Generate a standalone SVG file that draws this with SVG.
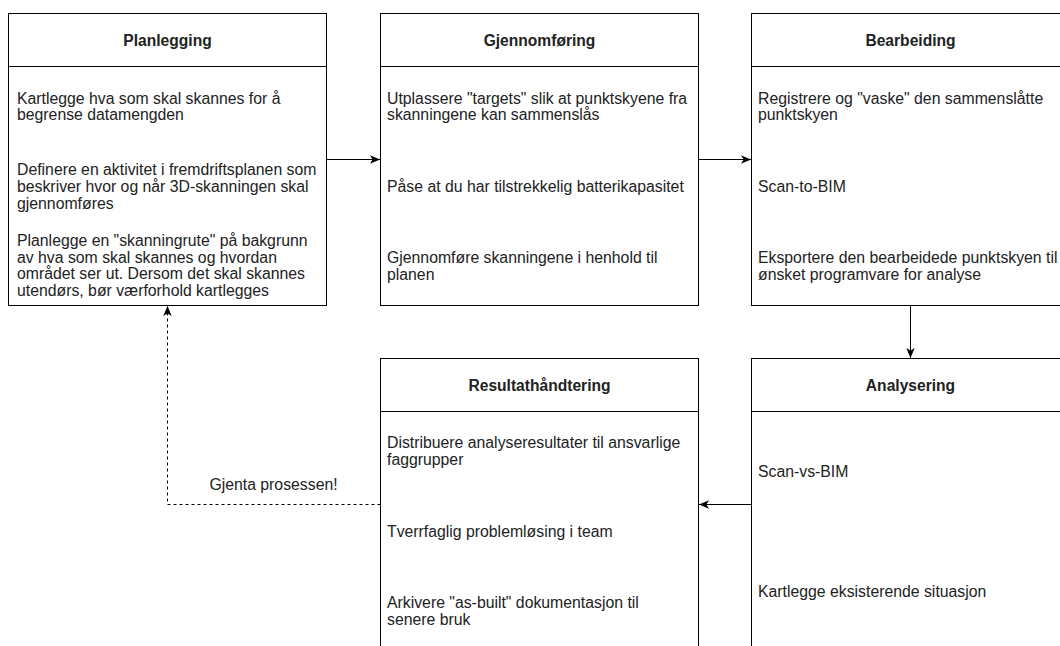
<svg xmlns="http://www.w3.org/2000/svg" width="1060" height="646" viewBox="0 0 1060 646">
<style>
.box{fill:#fff;stroke:#000;stroke-width:1}
.div{stroke:#000;stroke-width:1;fill:none}
.t{font-family:"Liberation Sans",Arial,Helvetica,sans-serif;font-size:15.8px;fill:#222}
.h{font-family:"Liberation Sans",Arial,Helvetica,sans-serif;font-size:15.6px;font-weight:bold;fill:#222;text-anchor:middle}
.c{fill:none;stroke:#000;stroke-width:1}
.d{fill:none;stroke:#000;stroke-width:1;stroke-dasharray:3 3}
</style>
<defs>
<marker id="arr" markerUnits="userSpaceOnUse" viewBox="0 0 10 10" markerWidth="10" markerHeight="10" refX="10" refY="5" orient="auto">
<path d="M0,0.8 L10,5 L0,9.2 L2.6,5 Z" fill="#000"/>
</marker>
</defs>
<rect width="1060" height="646" fill="#fff"/>
<g id="connectors">
<path class="c" d="M326.5,159.5 H380" marker-end="url(#arr)"/>
<path class="c" d="M698.5,159.5 H751" marker-end="url(#arr)"/>
<path class="c" d="M910.5,305.5 V358" marker-end="url(#arr)"/>
<path class="c" d="M751.5,504.5 H699" marker-end="url(#arr)"/>
<path class="d" d="M380.5,504.5 H167.5 V306" marker-end="url(#arr)"/>
<text class="t" x="273.5" y="489.5" text-anchor="middle">Gjenta prosessen!</text>
</g>
<g id="planlegging">
<rect class="box" x="8.5" y="13.5" width="318" height="292"/>
<line class="div" x1="8.5" y1="66.5" x2="326.5" y2="66.5"/>
<text class="h" x="167.5" y="45.5">Planlegging</text>
<text class="t" x="17" y="103.5">Kartlegge hva som skal skannes for å</text>
<text class="t" x="17" y="120.2">begrense datamengden</text>
<text class="t" x="17" y="175.3">Definere en aktivitet i fremdriftsplanen som</text>
<text class="t" x="17" y="192">beskriver hvor og når 3D-skanningen skal</text>
<text class="t" x="17" y="208.7">gjennomføres</text>
<text class="t" x="17" y="246">Planlegge en "skanningrute" på bakgrunn</text>
<text class="t" x="17" y="262.7">av hva som skal skannes og hvordan</text>
<text class="t" x="17" y="279.4">området ser ut. Dersom det skal skannes</text>
<text class="t" x="17" y="296.1">utendørs, bør værforhold kartlegges</text>
</g>
<g id="gjennomforing">
<rect class="box" x="380.5" y="13.5" width="318" height="292"/>
<line class="div" x1="380.5" y1="66.5" x2="698.5" y2="66.5"/>
<text class="h" x="539.5" y="45.5">Gjennomføring</text>
<text class="t" x="387" y="103.5">Utplassere "targets" slik at punktskyene fra</text>
<text class="t" x="387" y="120.2">skanningene kan sammenslås</text>
<text class="t" x="387" y="191.5">Påse at du har tilstrekkelig batterikapasitet</text>
<text class="t" x="387" y="263">Gjennomføre skanningene i henhold til</text>
<text class="t" x="387" y="279.7">planen</text>
</g>
<g id="bearbeiding">
<rect class="box" x="751.5" y="13.5" width="318" height="292"/>
<line class="div" x1="751.5" y1="66.5" x2="1069.5" y2="66.5"/>
<text class="h" x="910.5" y="45.5">Bearbeiding</text>
<text class="t" x="758" y="103.5">Registrere og "vaske" den sammenslåtte</text>
<text class="t" x="758" y="120.2">punktskyen</text>
<text class="t" x="758" y="191.5">Scan-to-BIM</text>
<text class="t" x="758" y="263">Eksportere den bearbeidede punktskyen til</text>
<text class="t" x="758" y="279.7">ønsket programvare for analyse</text>
</g>
<g id="resultathandtering">
<rect class="box" x="380.5" y="358.5" width="318" height="292"/>
<line class="div" x1="380.5" y1="411.5" x2="698.5" y2="411.5"/>
<text class="h" x="539.5" y="390.5">Resultathåndtering</text>
<text class="t" x="387" y="448">Distribuere analyseresultater til ansvarlige</text>
<text class="t" x="387" y="464.7">faggrupper</text>
<text class="t" x="387" y="536.5">Tverrfaglig problemløsing i team</text>
<text class="t" x="387" y="608">Arkivere "as-built" dokumentasjon til</text>
<text class="t" x="387" y="624.7">senere bruk</text>
</g>
<g id="analysering">
<rect class="box" x="751.5" y="358.5" width="318" height="292"/>
<line class="div" x1="751.5" y1="411.5" x2="1069.5" y2="411.5"/>
<text class="h" x="910.5" y="390.5">Analysering</text>
<text class="t" x="758" y="476.5">Scan-vs-BIM</text>
<text class="t" x="758" y="596.5">Kartlegge eksisterende situasjon</text>
</g>
</svg>
